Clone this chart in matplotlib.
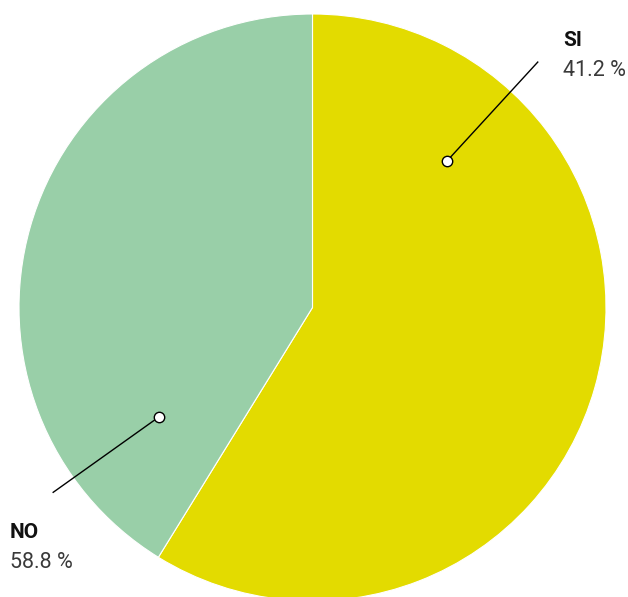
import matplotlib
matplotlib.use("Agg")
import matplotlib.pyplot as plt
import numpy as np

categories = ["SI", "NO"]
wedge_values = [58.8, 41.2]          # drawn wedge sizes (yellow, green)
label_values = ["41.2 %", "58.8 %"]  # labels as printed on the chart
colors = ["#E3DB00", "#99CFA8"]

W, H = 628, 597
fig = plt.figure(figsize=(W / 100, H / 100), dpi=100)
ax = fig.add_axes([0, 0, 1, 1])

cx, cy, R = 312.5, H - 307.5, 293.5
wedges, _ = ax.pie(wedge_values, colors=colors, startangle=90, counterclock=False,
                   center=(cx, cy), radius=R, frame=True,
                   wedgeprops=dict(edgecolor="white", linewidth=0.8))
ax.set_xlim(0, W)
ax.set_ylim(0, H)
ax.set_aspect("equal")
ax.axis("off")

# marker placement within each wedge (fraction of wedge span, fraction of radius)
place = [(0.201, 0.678, 1.135), (0.154, 0.642, 1.085)]
text_pos = [(563, 40, 70), (10, 533, 562)]

start = 0.0
total = sum(wedge_values)
for i, v in enumerate(wedge_values):
    span = v / total * 360
    f, rf, rl = place[i]
    ang = np.deg2rad(start + f * span)  # clockwise from top
    x0 = cx + rf * R * np.sin(ang)
    y0 = cy + rf * R * np.cos(ang)
    x1 = cx + rl * R * np.sin(ang)
    y1 = cy + rl * R * np.cos(ang)
    ax.plot([x0, x1], [y0, y1], color="black", lw=1, zorder=3)
    ax.plot([x0], [y0], marker="o", ms=7.5, mfc="white", mec="black", mew=1, zorder=4)
    tx, ty1, ty2 = text_pos[i]
    ax.text(tx, H - ty1, categories[i], fontsize=15, fontweight="bold",
            family="Roboto", color="#111111", ha="left", va="center")
    ax.text(tx, H - ty2, label_values[i], fontsize=15.5, fontweight="normal",
            family="Roboto", color="#3a3a3a", ha="left", va="center")
    start += span

fig.savefig("out.png", dpi=100)
